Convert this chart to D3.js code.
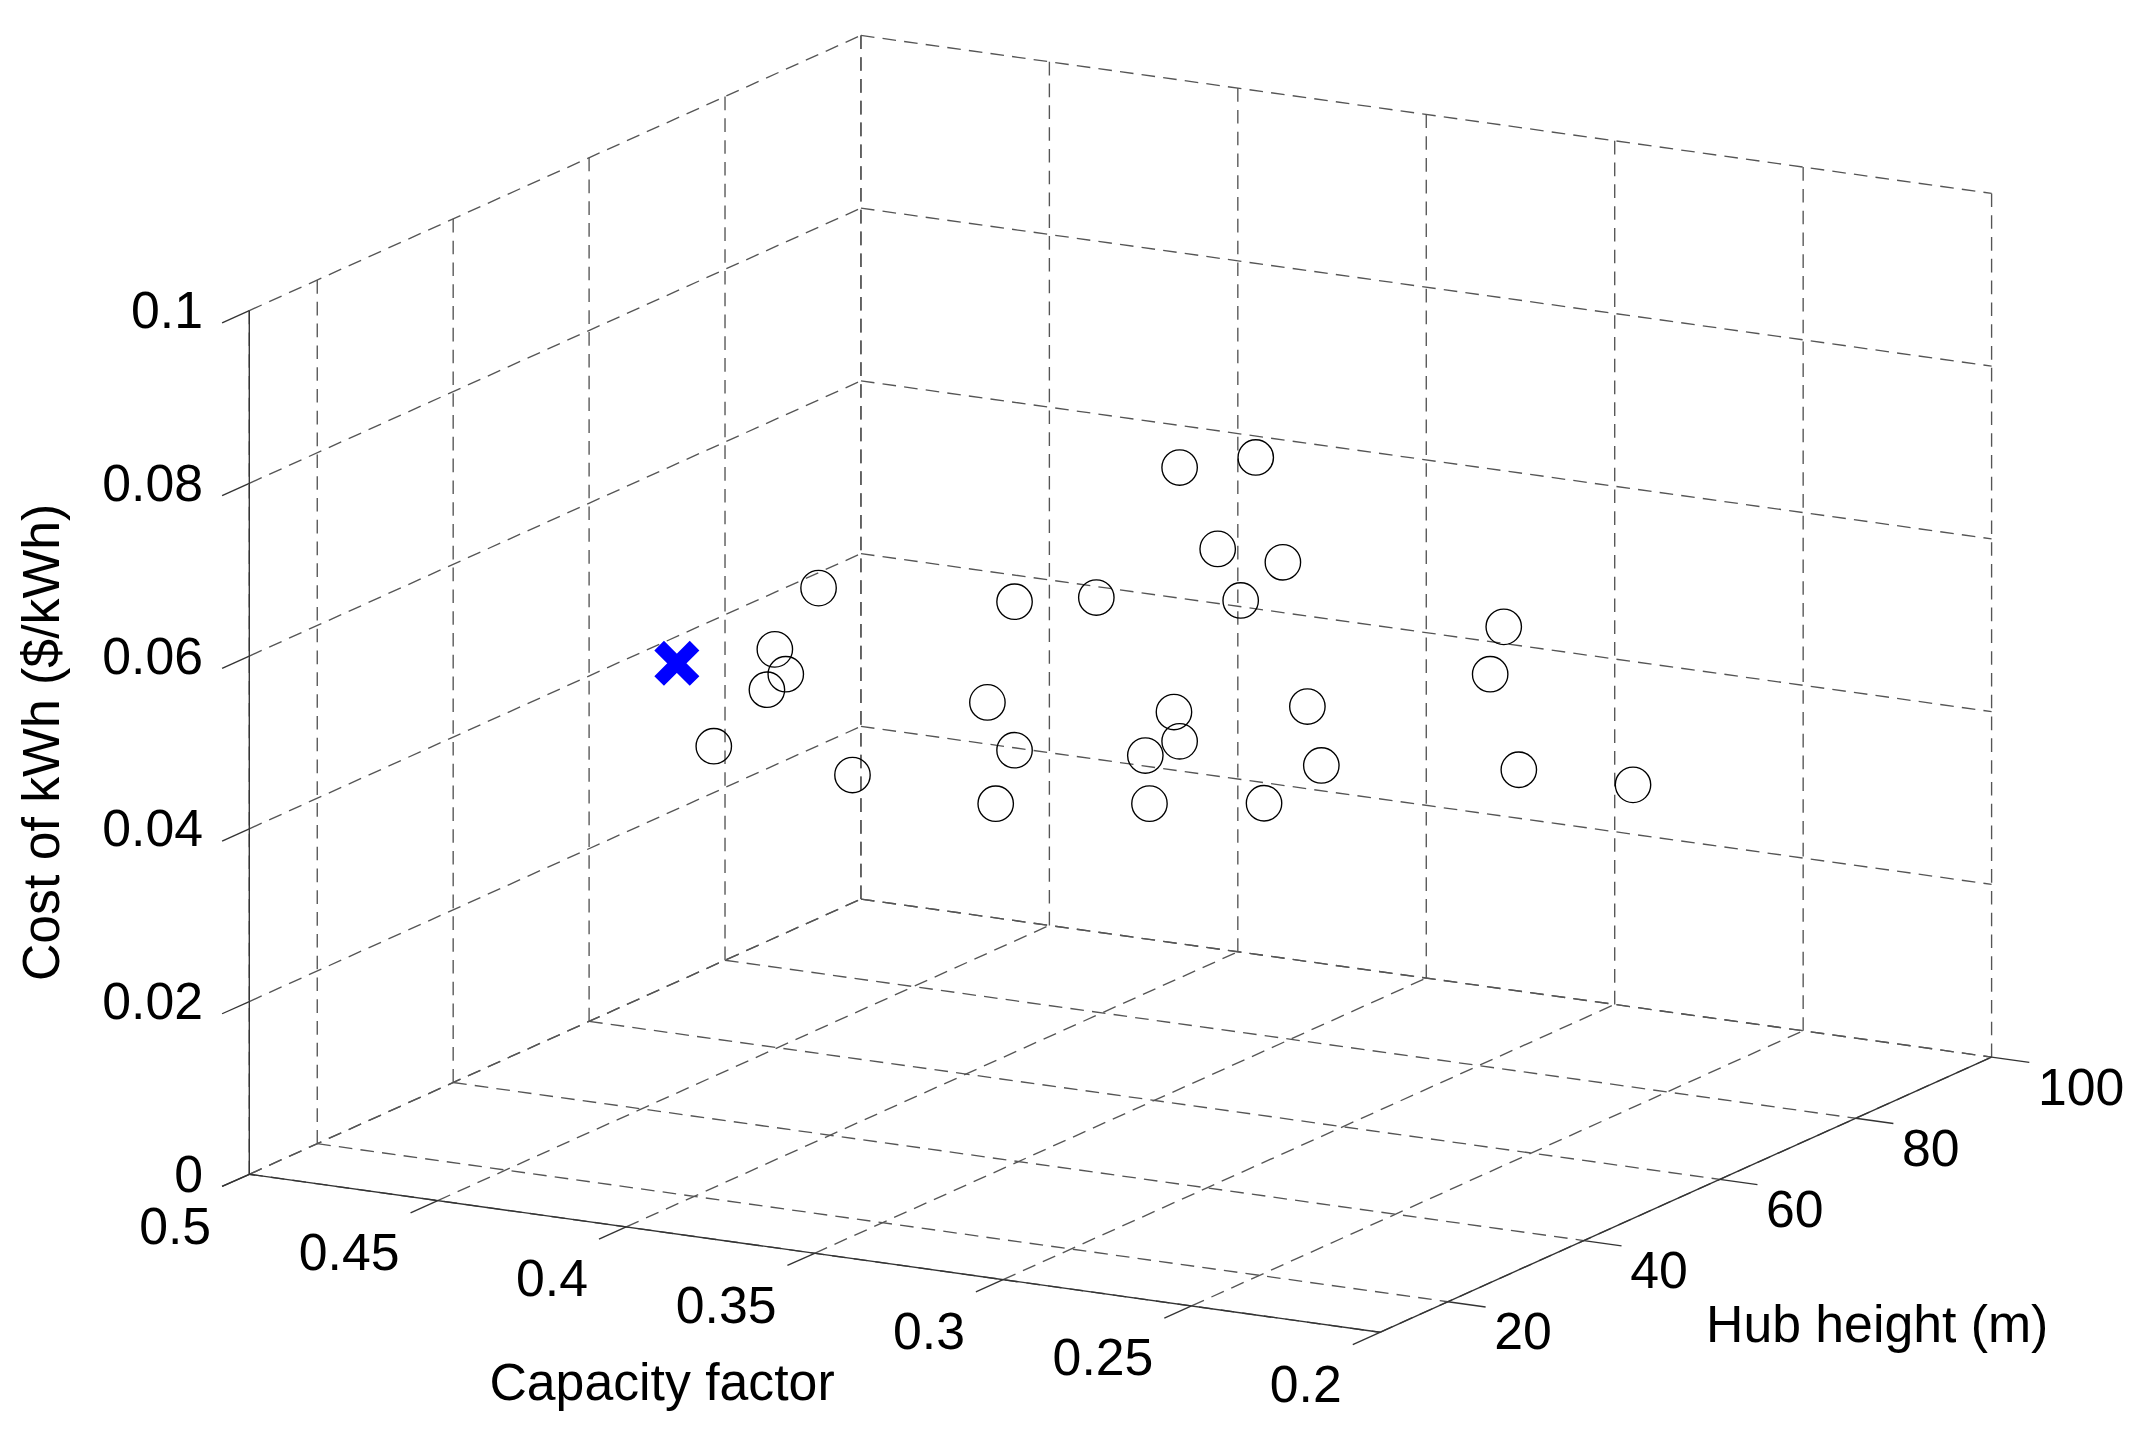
<!DOCTYPE html>
<html><head><meta charset="utf-8">
<script src="https://cdn.jsdelivr.net/npm/d3@7"></script>
<style>body{margin:0;background:#fff}text{font-family:"Liberation Sans",Arial,sans-serif;font-size:38px;fill:#000}</style>
</head><body>
<script>
// data
var capFactor = [0.3343,0.3141,0.3242,0.3069,0.3181,0.3564,0.3781,0.4301,0.4417,0.4388,0.4438,0.4579,0.4211,0.3853,0.3781,0.3831,0.3434,0.3358,0.3343,0.3423,0.3119,0.3004,0.2967,0.2483,0.2519,0.2443,0.2140]
var hubHeight = capFactor.map(function(){ return 55 })
var cost = [0.0760,0.0784,0.0672,0.0667,0.0616,0.0596,0.0578,0.0562,0.0484,0.0457,0.0436,0.0362,0.0351,0.0457,0.0406,0.0341,0.0421,0.0476,0.0443,0.0366,0.0385,0.0504,0.0438,0.0628,0.0571,0.0465,0.0466]
var best = {cf: 0.4677, hub: 55, cost: 0.0452}
var cfTicks = [0.5,0.45,0.4,0.35,0.3,0.25,0.2]
var hubTicks = [20,40,60,80,100]
var costTicks = [0,0.02,0.04,0.06,0.08,0.1]

var root = d3.select("body").append("svg").attr("width",2136).attr("height",1433)
// layout below was measured on a 1568 px wide copy
var svg = root.append("g").attr("transform","scale("+(2136/1568)+")")

// linear projection of the 3d box
var sa = d3.scaleLinear().domain([0.5,0.2]).range([0,1])
var sh = d3.scaleLinear().domain([10,100]).range([0,1])
var sz = d3.scaleLinear().domain([0,0.1]).range([0,1])
function proj(cf,h,z){
  var a=sa(cf), b=sh(h), c=sz(z)
  return [183 + a*830 + b*449, 862 + a*116 - b*202 - c*634]
}
function line(p,q,dashed,col){
  svg.append("line").attr("x1",p[0]).attr("y1",p[1]).attr("x2",q[0]).attr("y2",q[1])
    .attr("stroke",col||"#000").attr("stroke-width",1)
    .attr("stroke-dasharray",dashed?"10,6":null)
}
var g="#555"
// grid: floor, back wall (hub=100), left wall (cf=0.5)
cfTicks.forEach(function(c){
  line(proj(c,10,0),proj(c,100,0),true,g)
  line(proj(c,100,0),proj(c,100,0.1),true,g)
})
hubTicks.concat([10]).forEach(function(h){
  line(proj(0.5,h,0),proj(0.2,h,0),true,g)
  line(proj(0.5,h,0),proj(0.5,h,0.1),true,g)
})
costTicks.forEach(function(z){
  line(proj(0.5,10,z),proj(0.5,100,z),true,g)
  line(proj(0.5,100,z),proj(0.2,100,z),true,g)
})
// axes
line(proj(0.5,10,0),proj(0.2,10,0),false,"#333")
line(proj(0.2,10,0),proj(0.2,100,0),false,"#333")
line(proj(0.5,10,0),proj(0.5,10,0.1),false,"#333")

cfTicks.forEach(function(c){
  var p=proj(c,10,0), q=proj(c,6,0)
  line(p,q,false,"#333")
  svg.append("text").attr("x",p[0]-28).attr("y",p[1]+51).attr("text-anchor","end").text(c)
})
hubTicks.forEach(function(h){
  var p=proj(0.2,h,0), q=proj(0.21,h,0)
  line(p,[p[0]+(p[0]-q[0]),p[1]+(p[1]-q[1])],false,"#333")
  svg.append("text").attr("x",p[0]+34).attr("y",p[1]+35).text(h)
})
costTicks.forEach(function(z){
  var p=proj(0.5,10,z), q=proj(0.5,6,z)
  line(p,q,false,"#333")
  svg.append("text").attr("x",p[0]-34).attr("y",p[1]+13).attr("text-anchor","end").text(z)
})
svg.append("text").attr("x",486).attr("y",1028).attr("text-anchor","middle").text("Capacity factor")
svg.append("text").attr("x",1378).attr("y",985).attr("text-anchor","middle").text("Hub height (m)")
svg.append("text").attr("transform","translate(43,545) rotate(-90)").attr("text-anchor","middle").text("Cost of kWh ($/kWh)")

// points
capFactor.forEach(function(c,i){
  var p=proj(c,hubHeight[i],cost[i])
  svg.append("circle").attr("cx",p[0]).attr("cy",p[1]).attr("r",13)
    .attr("fill","none").attr("stroke","#000").attr("stroke-width",1)
})
var bp=proj(best.cf,best.hub,best.cost)
svg.append("path").attr("d","M-13,-13L13,13M-13,13L13,-13")
  .attr("transform","translate("+bp[0]+","+bp[1]+")")
  .attr("stroke","#0000ff").attr("stroke-width",10)
</script>
</body></html>
